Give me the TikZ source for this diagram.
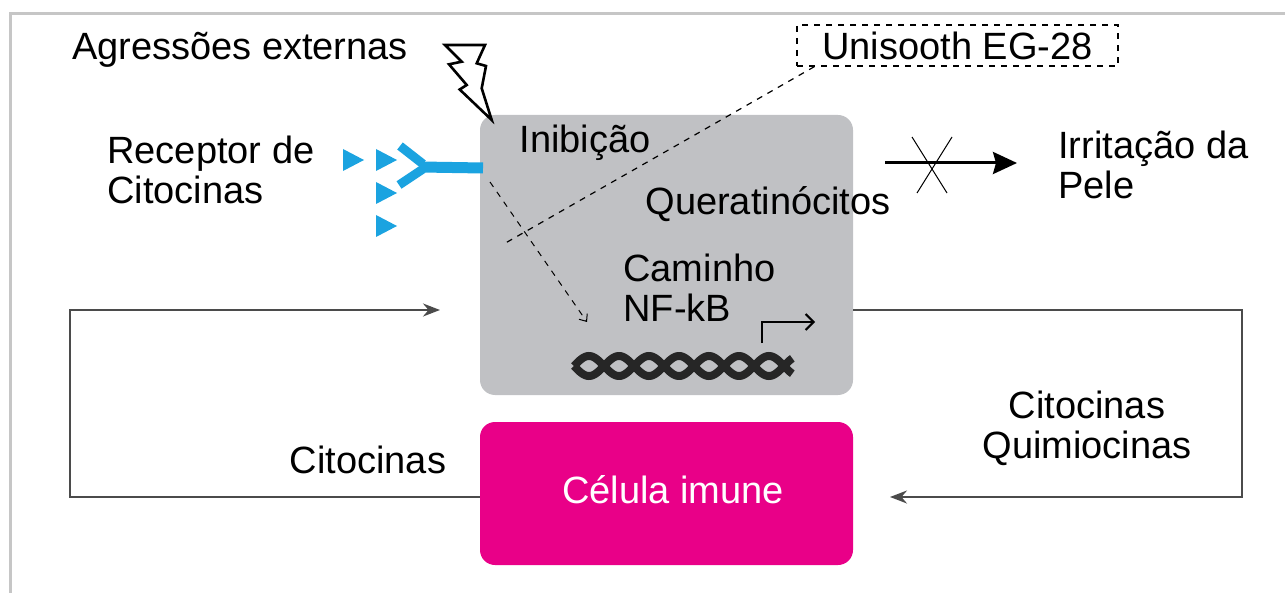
\documentclass[tikz,border=0pt]{standalone}
\usepackage{fontspec}
\setmainfont{Liberation Sans}
\usetikzlibrary{arrows.meta, calc, positioning}
\definecolor{cellgray}{RGB}{192,193,196}
\definecolor{immunepink}{RGB}{233,0,136}
\definecolor{receptorblue}{RGB}{27,163,224}
\definecolor{linegray}{RGB}{75,75,75}
\tikzstyle{cellbox} = [rectangle, rounded corners=7.5pt, minimum width=186.5pt, inner sep=0pt]
\tikzstyle{txt} = [inner sep=0pt, align=left, font=\fontsize{19}{20}\selectfont]
\tikzstyle{arrow} = [line width=1pt, draw=linegray, -{Stealth[length=8.5pt,width=6.5pt]}]
\tikzstyle{bigarrow} = [line width=1.5pt, -{Stealth[length=12pt,width=11pt,inset=1.5pt]}]
\tikzstyle{dashedarrow} = [line width=0.5pt, dashed, -{Straight Barb[length=3pt,width=5pt]}]
\tikzstyle{tri} = [fill=receptorblue, draw=none]
\tikzstyle{dna} = [line width=4pt, black!85]
\begin{document}
\begin{tikzpicture}[x=0.5pt, y=-0.5pt]
		\useasboundingbox (0,0) rectangle (1285,593);
		\draw [gray!45, line width=1.5pt] (10,593) -- (10,14) -- (1285,14);

		\node (Keratin) [cellbox, fill=cellgray, minimum height=140pt] at (666.5,255) {};
		\node (Immune) [cellbox, fill=immunepink, minimum height=71.5pt] at (666.5,493.5) {};
		\node (ImmuneText) [txt, white] at (673,490) {Célula imune};

		\node (Aggression) [txt] at (240,50) {Agressões externas};
		\node (Receptor) [txt, anchor=west] at (107,170) {Receptor de\\Citocinas};
		\node (Unisooth) [txt, draw, dashed, line width=0.7pt, minimum width=160.5pt, minimum height=20.5pt, align=center] at (957.5,45.5) {Unisooth EG-28};
		\node (Inhibition) [txt] at (585,143) {Inibição};
		\node (KeratinText) [txt] at (768,204) {Queratinócitos};
		\node (Pathway) [txt, anchor=west] at (623,288) {Caminho\\NF-kB};
		\node (Irritation) [txt, anchor=west] at (1058,165) {Irritação da\\Pele};
		\node (CytoL) [txt] at (368,460) {Citocinas};
		\node (CytoR) [txt, align=center] at (1087,428) {Citocinas\\Quimiocinas};

		\coordinate (InL) at (440,310);
		\coordinate (LoopL) at (70,310);
		\coordinate (LoopR) at (1242,497);
		\coordinate (OutR) at (890,497);
		\coordinate (Block) at (885,163);
		\coordinate (Skin) at (1017,163);
		\coordinate (Promoter) at (762,343);
		\coordinate (Transcript) at (815,322);
		\coordinate (Signal) at (490,182);
		\coordinate (Gene) at (587,322);
		\coordinate (Target) at (502,245);

		% feedback loops
		\draw [arrow] ($(Immune.west)+(0,3.5)$) -| (LoopL) -- (InL);
		\draw [arrow] (Keratin.east |- InL) -| (LoopR) -- (OutR);

		% blocked irritation
		\draw [bigarrow] (Block) -- (Skin);
		\draw [line width=0.5pt] (912,137) -- (947,193);
		\draw [line width=0.5pt] (952,137) -- (917,193);

		% inhibition
		\draw [line width=0.6pt, dashed] ($(Unisooth.south west)+(18,0)$) -- (Target);
		\draw [dashedarrow] (Signal) -- (Gene);
		\draw [line width=1pt, -{Straight Barb[length=4pt,width=8pt]}] (Promoter) |- (Transcript);

		% external aggression
		\draw [line width=1.3pt, fill=white, line join=miter] (445,45) -- (485,45) -- (476.7,63.3) -- (486,66) -- (481.7,88.3) -- (491.7,120)
			-- (459.7,89.5) -- (466.7,85) -- (449,64.3) -- (461.7,61.7) -- cycle;

		% cytokine receptor
		\draw [receptorblue, line width=4.5pt] (400,146) -- (423,164);
		\draw [receptorblue, line width=4.5pt] (399,185) -- (423,169);
		\draw [receptorblue, line width=5.5pt] (421,167) -- (483,168);
		\foreach \tx/\ty in {353/160, 386/160, 386/193, 386/226}
			\fill [tri] ($(\tx,\ty)+(-10,-11)$) -- ($(\tx,\ty)+(11,0)$) -- ($(\tx,\ty)+(-10,11)$) -- cycle;

		% DNA
		\draw [dna] plot[domain=0:1310, samples=150, smooth] ({574+\x/180*30},{366+10*sin(\x)});
		\draw [dna] plot[domain=0:1310, samples=150, smooth] ({574+\x/180*30},{366-10*sin(\x)});
	\end{tikzpicture}
\end{document}
